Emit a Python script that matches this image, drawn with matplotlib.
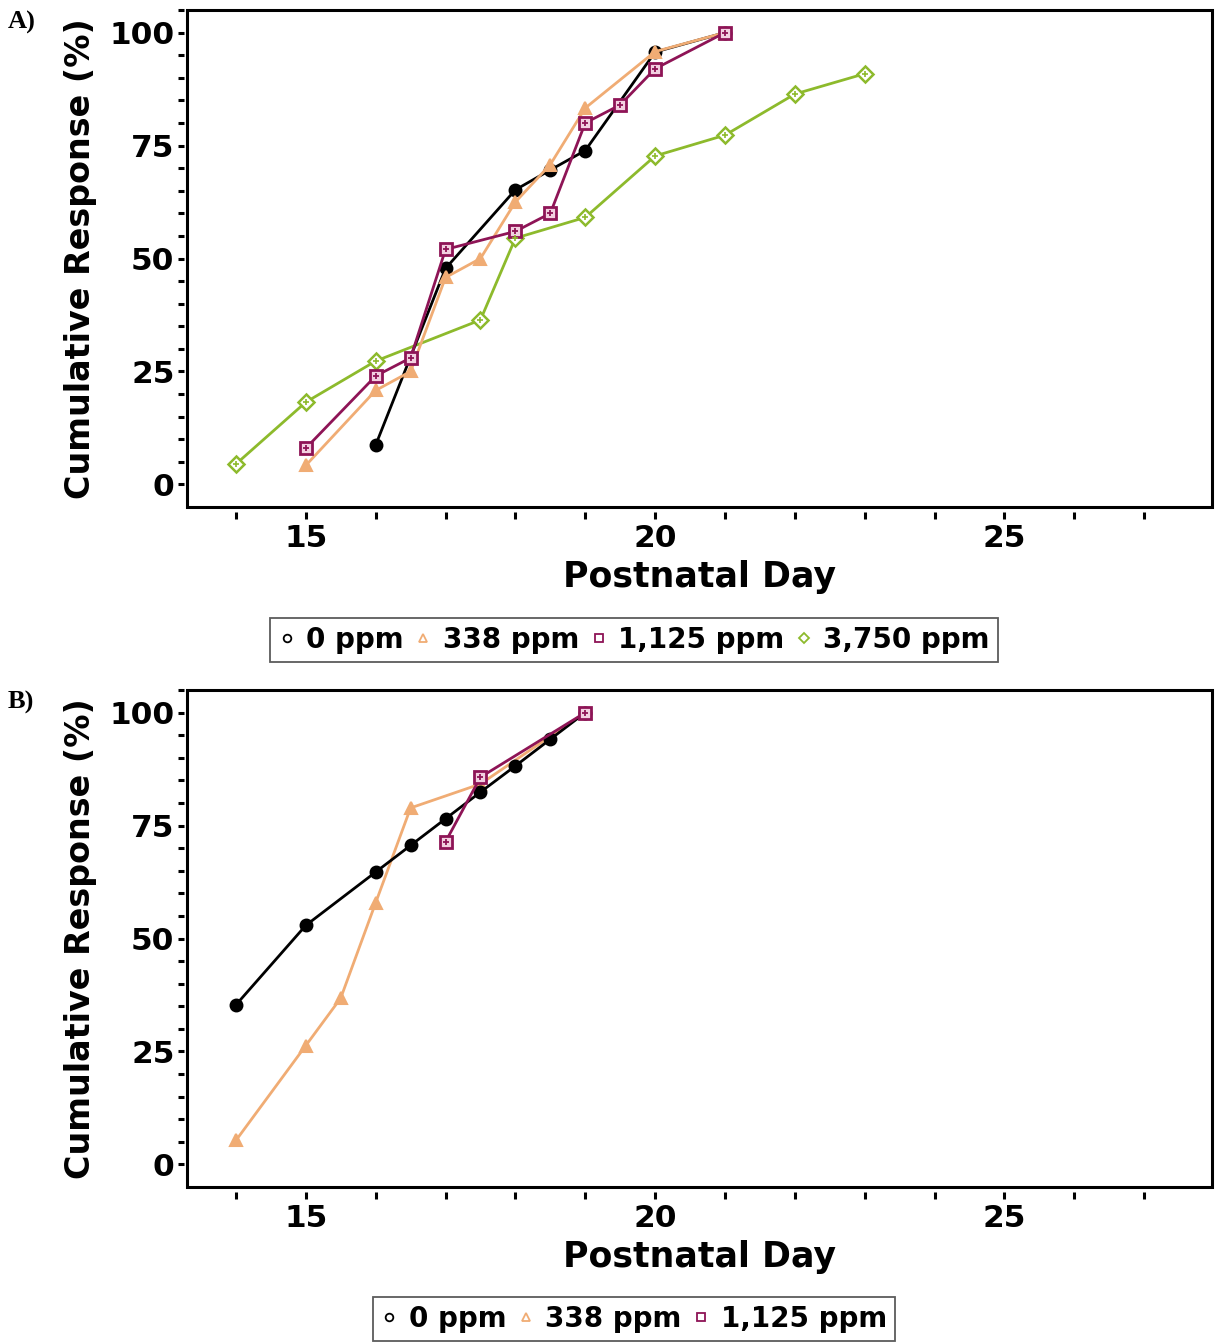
import matplotlib
matplotlib.use("Agg")
import matplotlib.pyplot as plt
from matplotlib.lines import Line2D
from matplotlib.patches import Rectangle

plt.rcParams['font.family'] = ['DejaVu Sans']

# ---------------- data ----------------
series_names_a = ["0 ppm", "338 ppm", "1,125 ppm", "3,750 ppm"]
series_names_b = ["0 ppm", "338 ppm", "1,125 ppm"]

a0_day = [16, 17, 18, 18.5, 19, 20, 21]
a0_val = [8.7, 47.8, 65.2, 69.6, 73.9, 95.7, 100]
a338_day = [15, 16, 16.5, 17, 17.5, 18, 18.5, 19, 20, 21]
a338_val = [4.2, 20.8, 25.0, 45.8, 50.0, 62.5, 70.8, 83.3, 95.8, 100]
a1125_day = [15, 16, 16.5, 17, 18, 18.5, 19, 19.5, 20, 21]
a1125_val = [8, 24, 28, 52, 56, 60, 80, 84, 92, 100]
a3750_day = [14, 15, 16, 17.5, 18, 19, 20, 21, 22, 23]
a3750_val = [4.5, 18.2, 27.3, 36.4, 54.5, 59.1, 72.7, 77.3, 86.4, 90.9]

b0_day = [14, 15, 16, 16.5, 17, 17.5, 18, 18.5, 19]
b0_val = [35.3, 52.9, 64.7, 70.6, 76.5, 82.4, 88.2, 94.1, 100]
b338_day = [14, 15, 15.5, 16, 16.5, 17.5, 19]
b338_val = [5.3, 26.3, 36.8, 57.9, 78.9, 84.2, 100]
b1125_day = [17, 17.5, 19]
b1125_val = [71.4, 85.7, 100]

x_ticks = [15, 20, 25]
y_ticks = [0, 25, 50, 75, 100]

# ---------------- styles ----------------
C_BLACK = "#000000"
C_ORANGE = "#F0AC74"
C_MAG = "#8E1456"
C_GREEN = "#8DBA2C"

styles = {
    "0 ppm": dict(color=C_BLACK, marker="o", ms=8.5, mfc=C_BLACK, mec=C_BLACK, mew=1.5),
    "338 ppm": dict(color=C_ORANGE, marker="^", ms=8.5, mfc=C_ORANGE, mec=C_ORANGE, mew=1.5),
    "1,125 ppm": dict(color=C_MAG, marker="s", ms=8.5, mfc="#F2D0E0", mec=C_MAG, mew=2),
    "3,750 ppm": dict(color=C_GREEN, marker="D", ms=8.5, mfc="white", mec=C_GREEN, mew=1.8),
}
inner = {
    "1,125 ppm": dict(marker="+", ms=5, mec=C_MAG, mew=1.3),
    "3,750 ppm": dict(marker="+", ms=5, mec=C_GREEN, mew=1.2),
}

W, H = 1215, 1342
fig = plt.figure(figsize=(W / 100, H / 100), dpi=100)

def fx(px):
    return px / W

def fy(py):
    return 1 - py / H

axA = fig.add_axes([fx(187), fy(507), fx(1212) - fx(187), fy(10) - fy(507)])
axB = fig.add_axes([fx(187), fy(1187), fx(1212) - fx(187), fy(690) - fy(1187)])

def plot_series(ax, name, days, vals):
    st = styles[name]
    ax.plot(days, vals, lw=2.0, **st, zorder=3)
    if name in inner:
        ax.plot(days, vals, ls="none", **inner[name], zorder=4)

plot_series(axA, "3,750 ppm", a3750_day, a3750_val)
plot_series(axA, "0 ppm", a0_day, a0_val)
plot_series(axA, "338 ppm", a338_day, a338_val)
plot_series(axA, "1,125 ppm", a1125_day, a1125_val)

plot_series(axB, "338 ppm", b338_day, b338_val)
plot_series(axB, "0 ppm", b0_day, b0_val)
plot_series(axB, "1,125 ppm", b1125_day, b1125_val)

for ax in (axA, axB):
    ax.set_xlim(13.3, 27.97)
    ax.set_ylim(-5, 105)
    ax.set_xticks(x_ticks)
    ax.set_xticks([d for d in range(14, 28)], minor=True)
    ax.set_yticks(y_ticks)
    ax.set_yticks([v for v in range(0, 106, 5)], minor=True)
    for s in ax.spines.values():
        s.set_visible(False)
    ax.spines['left'].set_position(('outward', 2.5))
    ax.spines['bottom'].set_position(('outward', 3.5))
    ax.tick_params(axis='both', which='both', direction='out', width=2.2, color='black')
    ax.tick_params(axis='y', which='both', length=4.5, pad=2)
    ax.tick_params(axis='x', which='both', length=5, pad=4)
    ax.tick_params(axis='both', which='major', labelsize=22.5)
    for lab in ax.get_xticklabels() + ax.get_yticklabels():
        lab.set_fontweight('bold')
    ax.add_patch(Rectangle((0, 0), 1, 1, transform=ax.transAxes, fill=False,
                           ec='black', lw=2.2, clip_on=False, zorder=5))
    ax.set_xlabel("Postnatal Day", fontsize=25, fontweight='bold', labelpad=5)
    ax.set_ylabel("Cumulative Response (%)", fontsize=24, fontweight='bold', labelpad=9)

fig.text(fx(8), fy(22), "A)", fontsize=19, fontweight='bold', family='Liberation Serif', va='center', ha='left')
fig.text(fx(8), fy(702), "B)", fontsize=19, fontweight='bold', family='Liberation Serif', va='center', ha='left')

def legend_handles(names):
    hs = []
    for n in names:
        st = styles[n]
        hs.append(Line2D([], [], ls='none', marker=st['marker'], ms=5.5,
                         mfc='none', mec=st['mec'], mew=1.3, label=n))
    return hs

for names, cy in ((series_names_a, 640), (series_names_b, 1319)):
    leg = fig.legend(handles=legend_handles(names), loc='center',
                     bbox_to_anchor=(fx(634), fy(cy)), ncol=len(names),
                     frameon=True, fancybox=False, edgecolor='#333333',
                     handlelength=0.6, handletextpad=0.4, columnspacing=0.4,
                     borderpad=0.3, borderaxespad=0,
                     prop=dict(size=20, weight='bold'))
    leg.get_frame().set_linewidth(1.3)

fig.savefig("out.png", dpi=100)
